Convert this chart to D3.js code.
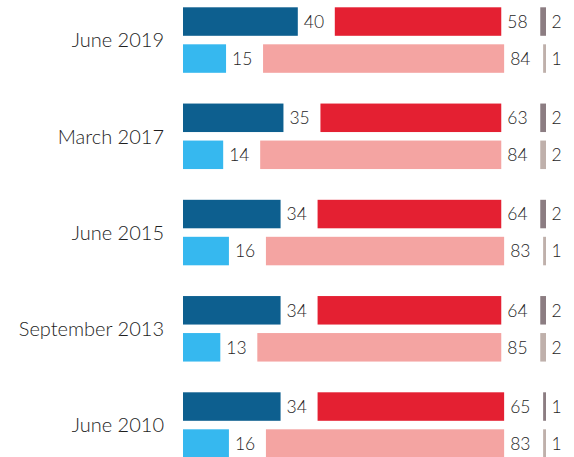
<!DOCTYPE html>
<html>
<head>
<meta charset="utf-8">
<script src="https://cdn.jsdelivr.net/npm/d3@7"></script>
<style>
  body { margin: 0; background: #fff; }
  text { font-family: Lato, "Open Sans", sans-serif; font-weight: 300; fill: #1e1e1e; }
</style>
</head>
<body>
<div id="chart"></div>
<script>
var categories = ["June 2019", "March 2017", "June 2015", "September 2013", "June 2010"];

// top row of each group
var topBlue = [40, 35, 34, 34, 34];
var topRed = [58, 63, 64, 64, 65];
var topGrey = [2, 2, 2, 2, 1];

// bottom row of each group
var botBlue = [15, 14, 16, 13, 16];
var botRed = [84, 84, 83, 85, 83];
var botGrey = [1, 2, 1, 2, 1];

var colors = {
  top: ["#0d5f8f", "#e42032", "#8c7d82"],
  bot: ["#36b8ef", "#f4a4a2", "#bfb0ab"]
};

var width = 574, height = 457;
var x0 = 183, gap = 37, greyEnd = 546;

var svg = d3.select("#chart")
  .append("svg")
  .attr("width", width)
  .attr("height", height);

var x = d3.scaleLinear().domain([0, 100]).range([0, 287]);

var yGroup = d3.scaleBand()
  .domain(categories)
  .range([7.3, 7.3 + 5 * 96.25]);

var yRow = d3.scaleBand()
  .domain(["top", "bot"])
  .range([0, 65.5])
  .paddingInner(0.23);

var rows = [];
categories.forEach(function(c, i){
  rows.push({cat: c, row: "top", blue: topBlue[i], red: topRed[i], grey: topGrey[i]});
  rows.push({cat: c, row: "bot", blue: botBlue[i], red: botRed[i], grey: botGrey[i]});
});

var g = svg.selectAll(".row")
  .data(rows)
  .enter()
  .append("g")
  .attr("class", "row")
  .attr("transform", function(d){ return "translate(0," + (yGroup(d.cat) + yRow(d.row)) + ")"; });

var bh = yRow.bandwidth();

// blue
g.append("rect")
  .attr("x", x0)
  .attr("y", 0)
  .attr("width", function(d){ return x(d.blue); })
  .attr("height", bh)
  .attr("fill", function(d){ return colors[d.row][0]; });

g.append("text")
  .attr("x", function(d){ return x0 + x(d.blue) + 6; })
  .attr("y", bh / 2)
  .attr("dy", "0.36em")
  .attr("font-size", 17.5)
  .text(function(d){ return d.blue; });

// red
g.append("rect")
  .attr("x", function(d){ return x0 + x(d.blue) + gap; })
  .attr("y", 0)
  .attr("width", function(d){ return x(d.red); })
  .attr("height", bh)
  .attr("fill", function(d){ return colors[d.row][1]; });

g.append("text")
  .attr("x", function(d){ return x0 + x(d.blue) + gap + x(d.red) + 6; })
  .attr("y", bh / 2)
  .attr("dy", "0.36em")
  .attr("font-size", 17.5)
  .text(function(d){ return d.red; });

// grey
g.append("rect")
  .attr("x", function(d){ return greyEnd - x(d.grey); })
  .attr("y", 0)
  .attr("width", function(d){ return x(d.grey); })
  .attr("height", bh)
  .attr("fill", function(d){ return colors[d.row][2]; });

g.append("text")
  .attr("x", greyEnd + 5.5)
  .attr("y", bh / 2)
  .attr("dy", "0.36em")
  .attr("font-size", 17.5)
  .text(function(d){ return d.grey; });

// category labels
svg.selectAll(".cat")
  .data(categories)
  .enter()
  .append("text")
  .attr("class", "cat")
  .attr("x", 164)
  .attr("y", function(d){ return yGroup(d) + 65.5 / 2; })
  .attr("dy", "0.36em")
  .attr("text-anchor", "end")
  .attr("font-size", 20)
  .text(function(d){ return d; });
</script>
</body>
</html>
